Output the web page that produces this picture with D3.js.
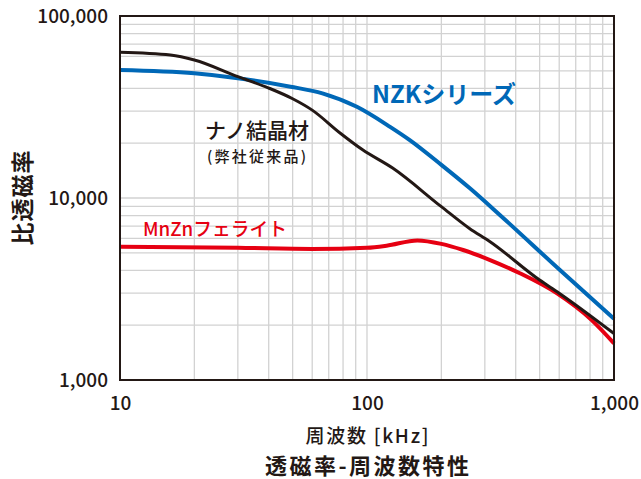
<!DOCTYPE html>
<html>
<head>
<meta charset="utf-8">
<script src="https://cdn.jsdelivr.net/npm/d3@7"></script>
<style>
  html, body { margin: 0; padding: 0; background: #fff; }
  svg { display: block; font-family: "Noto Sans CJK JP", "Noto Sans", sans-serif; }
</style>
</head>
<body>
<svg id="chart" width="641" height="479"></svg>
<script>
// ---- data ----
const xTickValues = [10, 100, 1000];
const yTickValues = [1000, 10000, 100000];

const nzkFreq   = [10, 20, 30, 49, 66, 91, 124, 149, 200, 261, 345, 604, 1000];
const nzkValues = [50500, 48400, 45500, 40900, 37600, 31700, 24600, 20800, 15200, 11300, 8070, 4020, 2170];

const nanoFreq   = [10, 16, 20, 30, 40, 50, 60, 78, 96, 127, 200, 260, 315, 500, 600, 1000];
const nanoValues = [63200, 61000, 57300, 46400, 40200, 35100, 30400, 22700, 18400, 14600, 8960, 6800, 5750, 3540, 3000, 1800];

const mnznFreq   = [10, 30, 60, 100, 120, 160, 200, 245, 315, 416, 586, 810, 1000];
const mnznValues = [5400, 5330, 5250, 5330, 5470, 5850, 5600, 5180, 4560, 3860, 3000, 2140, 1590];

const seriesNames = ["NZKシリーズ", "ナノ結晶材", "MnZnフェライト"];
const subLabel = "(弊社従来品)";
const xTitle = "周波数 [kHz]";
const yTitle = "比透磁率";
const chartTitle = "透磁率-周波数特性";

// ---- layout ----
const svg = d3.select("#chart");
const L = 120, R = 614, T = 16, B = 380;
const textColor = "#231815";

const x = d3.scaleLog().domain([10, 1000]).range([L, R]);
const y = d3.scaleLog().domain([1000, 100000]).range([B, T]);

// grid
const xGrid = [];
for (let d = 10; d < 1000; d *= 10) for (let k = 1; k <= 9; k++) if (d * k > 10) xGrid.push(d * k);
const yGrid = [];
for (let d = 1000; d < 100000; d *= 10) for (let k = 1; k <= 9; k++) if (d * k > 1000) yGrid.push(d * k);

const grid = svg.append("g");
grid.selectAll("line.v").data(xGrid).join("line")
  .attr("x1", d => x(d)).attr("x2", d => x(d)).attr("y1", T).attr("y2", B)
  .attr("stroke", "#d2d2d2").attr("stroke-width", 1.3);
grid.selectAll("line.h").data(yGrid).join("line")
  .attr("y1", d => y(d)).attr("y2", d => y(d)).attr("x1", L).attr("x2", R)
  .attr("stroke", "#d2d2d2").attr("stroke-width", 1.3);

// series lines
const line = d3.line().x(d => x(d[0])).y(d => y(d[1])).curve(d3.curveMonotoneX);
const zip = (a, b) => a.map((v, i) => [v, b[i]]);

svg.append("path").datum(zip(nzkFreq, nzkValues)).attr("d", line)
  .attr("fill", "none").attr("stroke", "#0068b7").attr("stroke-width", 4);
svg.append("path").datum(zip(mnznFreq, mnznValues)).attr("d", line)
  .attr("fill", "none").attr("stroke", "#e60012").attr("stroke-width", 4);
svg.append("path").datum(zip(nanoFreq, nanoValues)).attr("d", line)
  .attr("fill", "none").attr("stroke", "#231815").attr("stroke-width", 3);

// frame
svg.append("rect").attr("x", L).attr("y", T).attr("width", R - L).attr("height", B - T)
  .attr("fill", "none").attr("stroke", textColor).attr("stroke-width", 2);

// axes
const fmt = d3.format(",");
const xAxis = d3.axisBottom(x).tickValues(xTickValues).tickFormat(fmt).tickSize(0).tickPadding(0);
const gx = svg.append("g").attr("transform", `translate(0,${B})`).call(xAxis);
gx.select(".domain").remove();
gx.selectAll("text").attr("y", 30).attr("dy", 0)
  .attr("font-size", 19).attr("font-weight", 500).attr("fill", textColor)
  .attr("font-family", '"Noto Sans CJK JP", sans-serif');

const yAxis = d3.axisLeft(y).tickValues(yTickValues).tickFormat(fmt).tickSize(0).tickPadding(0);
const gy = svg.append("g").attr("transform", `translate(${L},0)`).call(yAxis);
gy.select(".domain").remove();
gy.selectAll("text").attr("x", -12).attr("dy", "0.35em")
  .attr("font-size", 19).attr("font-weight", 500).attr("fill", textColor)
  .attr("font-family", '"Noto Sans CJK JP", sans-serif');

// titles
svg.append("text").attr("x", 367).attr("y", 443).attr("text-anchor", "middle")
  .attr("font-size", 19).attr("font-weight", 500).attr("fill", textColor)
  .attr("textLength", 123).attr("lengthAdjust", "spacing").text(xTitle);
svg.append("text").attr("x", 367).attr("y", 474).attr("text-anchor", "middle")
  .attr("font-size", 22).attr("font-weight", 600).attr("fill", textColor)
  .attr("textLength", 204).attr("lengthAdjust", "spacing").text(chartTitle);
svg.append("text").attr("transform", "translate(31,198) rotate(-90)").attr("text-anchor", "middle")
  .attr("font-size", 23).attr("font-weight", 700).attr("fill", textColor)
  .attr("textLength", 95).attr("lengthAdjust", "spacing").text(yTitle);

// series labels
svg.append("text").attr("x", 372).attr("y", 103)
  .attr("font-size", 24).attr("font-weight", 700).attr("fill", "#0068b7")
  .attr("textLength", 144).attr("lengthAdjust", "spacingAndGlyphs").text(seriesNames[0]);
svg.append("text").attr("x", 205).attr("y", 138)
  .attr("font-size", 21).attr("font-weight", 500).attr("fill", textColor)
  .attr("textLength", 104).attr("lengthAdjust", "spacing").text(seriesNames[1]);
svg.append("text").attr("x", 207).attr("y", 162)
  .attr("font-size", 15).attr("font-weight", 500).attr("fill", textColor)
  .attr("textLength", 99).attr("lengthAdjust", "spacing").text(subLabel);
svg.append("text").attr("x", 143).attr("y", 236)
  .attr("font-size", 19).attr("font-weight", 500).attr("fill", "#e60012")
  .attr("textLength", 144).attr("lengthAdjust", "spacingAndGlyphs").text(seriesNames[2]);
</script>
</body>
</html>
